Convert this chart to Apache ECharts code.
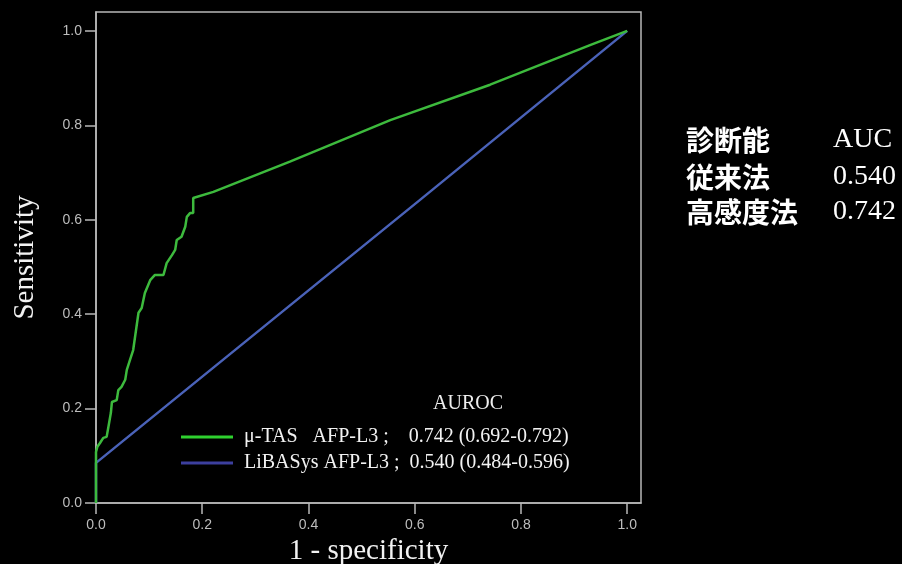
<!DOCTYPE html>
<html>
<head>
<meta charset="utf-8">
<style>
html,body{margin:0;padding:0;background:#000;}
#chart{width:902px;height:564px;}
</style>
<script src="https://cdn.jsdelivr.net/npm/echarts@6/dist/echarts.min.js"></script>
</head>
<body>
<div id="chart"></div>
<script>
// ---- data ----
const tickValues = [0, 0.2, 0.4, 0.6, 0.8, 1.0];
const seriesNames = ['μ-TAS', 'LiBASys'];
const legendLabels = ['μ-TAS   AFP-L3 ;    0.742 (0.692-0.792)', 'LiBASys AFP-L3 ;  0.540 (0.484-0.596)'];
// μ-TAS AFP-L3 ROC curve [1-specificity, sensitivity]
const tasCurve = [
  [0, 0], [0, 0.108], [0.0025, 0.119], [0.0075, 0.127], [0.0137, 0.138], [0.020, 0.140],
  [0.023, 0.159], [0.028, 0.191], [0.030, 0.214], [0.039, 0.218], [0.042, 0.239],
  [0.048, 0.246], [0.055, 0.261], [0.058, 0.282], [0.064, 0.303], [0.070, 0.324],
  [0.080, 0.403], [0.086, 0.413], [0.092, 0.445], [0.102, 0.472], [0.111, 0.483],
  [0.127, 0.483], [0.133, 0.508], [0.143, 0.525], [0.149, 0.536], [0.152, 0.557],
  [0.161, 0.564], [0.168, 0.585], [0.171, 0.606], [0.177, 0.614], [0.183, 0.614],
  [0.183, 0.646], [0.221, 0.659], [0.365, 0.723], [0.554, 0.811], [0.742, 0.886],
  [0.930, 0.970], [1.0, 1.0]
];
// LiBASys AFP-L3 ROC curve
const libCurve = [[0, 0], [0, 0.066], [0, 0.085], [0.610, 0.642], [1.0, 1.0]];
// right-side table
const tableRows = [['診断能', 'AUC'], ['従来法', '0.540'], ['高感度法', '0.742']];
const legendTitle = 'AUROC';
const xName = '1 - specificity';
const yName = 'Sensitivity';

const chart = echarts.init(document.getElementById('chart'));
const serif = '"Liberation Serif", "DejaVu Serif", serif';
const axisCommon = {
  type: 'value',
  min: 0,
  axisLine: {show: true, lineStyle: {color: '#b8b8b8', width: 1.5}},
  axisTick: {show: true, inside: false, length: 11, customValues: tickValues, lineStyle: {color: '#b8b8b8', width: 1.5}},
  axisLabel: {customValues: tickValues, color: '#bdbdbd', fontSize: 14, fontFamily: '"Liberation Sans", Arial, sans-serif', formatter: v => v.toFixed(1)},
  splitLine: {show: false},
  nameLocation: 'middle',
  nameTextStyle: {color: '#f2f2f2', fontSize: 29, fontFamily: serif}
};

const graphics = [{
  type: 'text', x: 468, y: 404,
  style: {text: legendTitle, fill: '#eeeeee', font: '20px ' + serif, align: 'center', verticalAlign: 'middle'}
}];
const rowY = [140, 177, 212];
tableRows.forEach((r, i) => {
  graphics.push({type: 'text', x: 686, y: rowY[i], style: {text: r[0], fill: '#ffffff', font: 'bold 28px "Noto Sans CJK JP"', verticalAlign: 'middle'}});
  graphics.push({type: 'text', x: 833, y: rowY[i], style: {text: r[1], fill: '#ffffff', font: '28px ' + serif, verticalAlign: 'middle'}});
});

chart.setOption({
  backgroundColor: '#000000',
  animation: false,
  grid: {left: 96, right: 261, top: 12, bottom: 61, show: true, borderColor: '#b8b8b8', borderWidth: 1.5,
         containLabel: false, outerBoundsMode: 'none'},
  xAxis: Object.assign({}, axisCommon, {
    max: 1.026, name: xName, nameGap: 34,
    axisLabel: Object.assign({}, axisCommon.axisLabel, {margin: 15})
  }),
  yAxis: Object.assign({}, axisCommon, {
    max: 1.040, name: yName, nameGap: 56,
    axisLabel: Object.assign({}, axisCommon.axisLabel, {margin: 14})
  }),
  legend: {
    orient: 'vertical', left: 181, top: 424, padding: 0, itemGap: 0,
    itemWidth: 52, itemHeight: 3, icon: 'rect',
    data: [
      {name: seriesNames[0], itemStyle: {color: '#2fd12f'}},
      {name: seriesNames[1], itemStyle: {color: '#3c3f9e'}}
    ],
    formatter: n => legendLabels[seriesNames.indexOf(n)],
    textStyle: {color: '#f2f2f2', fontSize: 20, fontFamily: serif, lineHeight: 26, padding: [0, 0, 0, 6]}
  },
  graphic: graphics,
  series: [
    {name: seriesNames[1], type: 'line', data: libCurve, showSymbol: false, symbol: 'none', z: 2,
     lineStyle: {color: '#4a62b8', width: 2.5}},
    {name: seriesNames[0], type: 'line', data: tasCurve, showSymbol: false, symbol: 'none', z: 3,
     lineStyle: {color: '#3dba3d', width: 2.5}}
  ]
});
</script>
</body>
</html>
